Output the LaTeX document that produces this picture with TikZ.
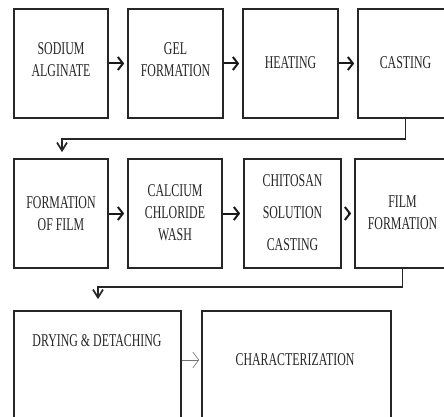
\documentclass[tikz,border=0pt]{standalone}
\usepackage{fontspec}
\newfontfamily\condserif[FakeStretch=0.66]{Liberation Serif}
\usetikzlibrary{arrows.meta}
\tikzset{
  box/.style={draw=black!85, line width=1.7pt, fill=white, minimum width=95pt, minimum height=109pt, inner sep=0pt},
  lbl/.style={text=black!85, align=center, inner sep=0pt, font=\condserif\fontsize{18}{22}\selectfont},
  flow/.style={draw=black!90, line width=2pt, -{Straight Barb[length=5pt,width=13pt,line width=2pt]}},
  link/.style={draw=black!85, line width=1.7pt, -{Straight Barb[length=8pt,width=10pt,line width=1.7pt]}},
  thinflow/.style={draw=black!55, line width=0.6pt, -{Straight Barb[length=6pt,width=16pt,line width=0.6pt]}}
}
\begin{document}
\begin{tikzpicture}[x=1pt,y=-1pt]
\useasboundingbox (0,0) rectangle (444,417);
\clip (0,0) rectangle (444,417);
% row 1
\node[box, minimum width=94pt] (b1) at (61,63.5) {};
\node[box] (b2) at (175.5,63.5) {};
\node[box] (b3) at (290.5,63.5) {};
\node[box] (b4) at (405.5,63.5) {};
\node[lbl] (t1) at (61,60) {SODIUM\\ALGINATE};
\node[lbl] (t2) at (175.5,60) {GEL\\FORMATION};
\node[lbl] (t3) at (290.5,63) {HEATING};
\node[lbl] (t4) at (405.5,63) {CASTING};
% row 2
\node[box, minimum width=94pt] (b5) at (61,213.5) {};
\node[box, minimum width=94pt] (b6) at (175,213.5) {};
\node[box, minimum width=97pt] (b7) at (292.5,213.5) {};
\node[box] (b8) at (402.5,213.5) {};
\node[lbl] (t5) at (61,214) {FORMATION\\OF FILM};
\node[lbl] (t6) at (175,213) {CALCIUM\\CHLORIDE\\WASH};
\node[lbl] (t7) at (292.5,213) {CHITOSAN\\[10pt]SOLUTION\\[10pt]CASTING};
\node[lbl] (t8) at (402.5,213) {FILM\\FORMATION};
% row 3
\node[box, minimum width=167pt, minimum height=114pt] (b9) at (97.5,368) {};
\node[box, minimum width=189pt, minimum height=114pt] (b10) at (296.5,368) {};
\node[lbl] (t9) at (97,341) {DRYING \& DETACHING};
\node[lbl] (t10) at (295,360) {CHARACTERIZATION};
% arrows row 1
\draw[flow, shorten >=3pt] (b1.east) -- (b2.west);
\draw[flow, shorten >=3pt] (b2.east) -- (b3.west);
\draw[flow, shorten >=3pt] (b3.east) -- (b4.west);
% arrows row 2
\draw[flow, shorten >=3pt] (b5.east) -- (b6.west);
\draw[flow, shorten >=3pt] (b6.east) -- (b7.west);
\draw[flow, shorten <=6pt, shorten >=3pt] (b7.east) -- (b8.west);
% row 3
\draw[thinflow, shorten >=2pt] (b9.east |- t10) -- (b10.west |- t10);
% connectors
\coordinate (c2) at (62,139);
\draw[link, shorten >=6pt] (b4.south) |- (c2) -- (c2 |- b5.north);
\coordinate (c3) at (98,287);
\draw[link, shorten >=11pt] (b8.south) |- (c3) -- (c3 |- b9.north);
\end{tikzpicture}
\end{document}
